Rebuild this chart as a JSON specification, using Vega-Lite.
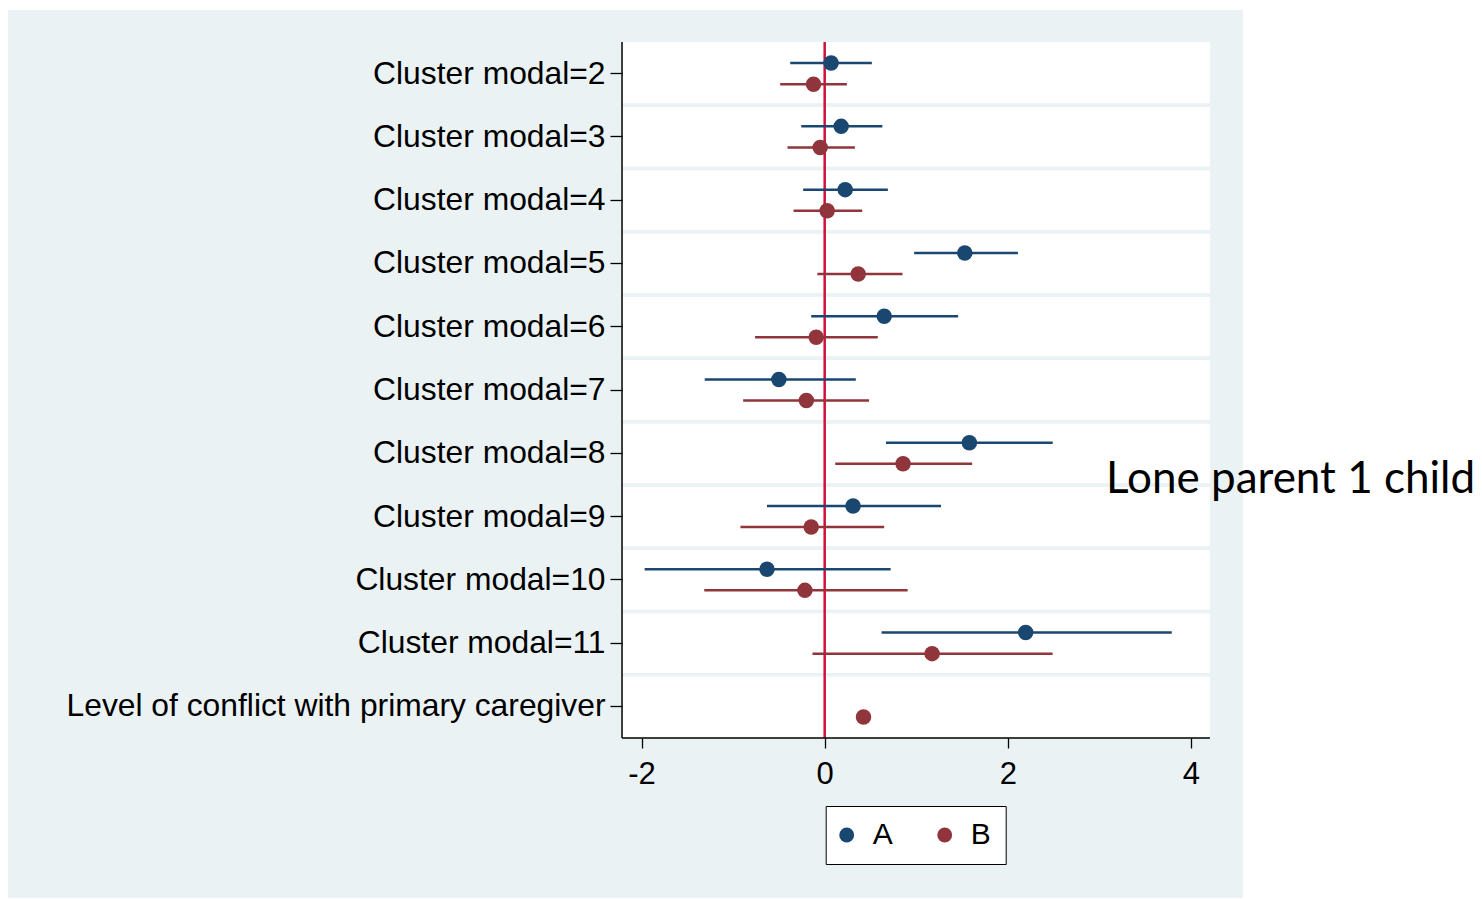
{
  "$schema": "https://vega.github.io/schema/vega-lite/v6.json",
  "width": 1235,
  "height": 888,
  "autosize": {"type": "none"},
  "padding": {"left": 8, "top": 10, "right": 239, "bottom": 1},
  "background": "white",
  "config": {"view": {"fill": "#EAF2F3", "stroke": null}, "font": "Liberation Sans"},
  "datasets": {
    "est": [
      {"cat": "Cluster modal=2", "series": "A", "est": 0.07, "lo": -0.376, "hi": 0.515},
      {"cat": "Cluster modal=2", "series": "B", "est": -0.122, "lo": -0.486, "hi": 0.242},
      {"cat": "Cluster modal=3", "series": "A", "est": 0.18, "lo": -0.256, "hi": 0.63},
      {"cat": "Cluster modal=3", "series": "B", "est": -0.049, "lo": -0.406, "hi": 0.33},
      {"cat": "Cluster modal=4", "series": "A", "est": 0.224, "lo": -0.235, "hi": 0.69},
      {"cat": "Cluster modal=4", "series": "B", "est": 0.027, "lo": -0.34, "hi": 0.41},
      {"cat": "Cluster modal=5", "series": "A", "est": 1.53, "lo": 0.977, "hi": 2.11},
      {"cat": "Cluster modal=5", "series": "B", "est": 0.366, "lo": -0.08, "hi": 0.85},
      {"cat": "Cluster modal=6", "series": "A", "est": 0.65, "lo": -0.147, "hi": 1.457},
      {"cat": "Cluster modal=6", "series": "B", "est": -0.093, "lo": -0.76, "hi": 0.58},
      {"cat": "Cluster modal=7", "series": "A", "est": -0.5, "lo": -1.31, "hi": 0.34},
      {"cat": "Cluster modal=7", "series": "B", "est": -0.2, "lo": -0.89, "hi": 0.485},
      {"cat": "Cluster modal=8", "series": "A", "est": 1.58, "lo": 0.67, "hi": 2.49},
      {"cat": "Cluster modal=8", "series": "B", "est": 0.856, "lo": 0.115, "hi": 1.61},
      {"cat": "Cluster modal=9", "series": "A", "est": 0.31, "lo": -0.63, "hi": 1.27},
      {"cat": "Cluster modal=9", "series": "B", "est": -0.147, "lo": -0.92, "hi": 0.65},
      {"cat": "Cluster modal=10", "series": "A", "est": -0.63, "lo": -1.966, "hi": 0.72},
      {"cat": "Cluster modal=10", "series": "B", "est": -0.216, "lo": -1.315, "hi": 0.906},
      {"cat": "Cluster modal=11", "series": "A", "est": 2.195, "lo": 0.621, "hi": 3.79},
      {"cat": "Cluster modal=11", "series": "B", "est": 1.173, "lo": -0.133, "hi": 2.489},
      {"cat": "Level of conflict with primary caregiver", "series": "B", "est": 0.424, "lo": 0.41, "hi": 0.44}
    ]
  },
  "data": {"name": "est"},
  "layer": [
    {
      "mark": {"type": "rect", "fill": "white"},
      "encoding": {
        "y": {
          "field": "cat",
          "type": "nominal",
          "scale": {
            "domain": ["Cluster modal=2", "Cluster modal=3", "Cluster modal=4", "Cluster modal=5", "Cluster modal=6", "Cluster modal=7", "Cluster modal=8", "Cluster modal=9", "Cluster modal=10", "Cluster modal=11", "Level of conflict with primary caregiver"],
            "range": [32, 728],
            "paddingInner": 0,
            "paddingOuter": 0
          },
          "axis": {
            "orient": "left",
            "offset": -614,
            "zindex": 1,
            "domain": false,
            "grid": false,
            "title": null,
            "tickSize": 12,
            "tickColor": "black",
            "tickWidth": 1.3,
            "labelFontSize": 31.8,
            "labelFont": "Liberation Sans",
            "labelColor": "black",
            "labelPadding": 5,
            "labelLimit": 0
          }
        },
        "x": {
          "datum": -2.213,
          "type": "quantitative",
          "scale": {"domain": [-8.918, 4.568], "nice": false, "zero": false},
          "axis": {
            "orient": "bottom",
            "offset": -160,
            "zindex": 1,
            "values": [-2, 0, 2, 4],
            "labelExpr": "'' + datum.value",
            "domain": false,
            "grid": false,
            "title": null,
            "tickSize": 10,
            "tickColor": "black",
            "tickWidth": 1.3,
            "labelFontSize": 31,
            "labelFont": "Liberation Sans",
            "labelColor": "black",
            "labelPadding": 11,
            "labelFlush": false
          }
        },
        "x2": {"datum": 4.207}
      }
    },
    {
      "transform": [{"filter": "datum.cat != 'Cluster modal=2'"}],
      "mark": {"type": "rule", "color": "#EAF2F3", "strokeWidth": 3.5},
      "encoding": {
        "y": {"field": "cat", "type": "nominal", "bandPosition": 0},
        "x": {"datum": -2.213, "type": "quantitative"},
        "x2": {"datum": 4.207}
      }
    },
    {
      "data": {"values": [{}]},
      "mark": {"type": "rule", "color": "#D0103A", "strokeWidth": 2.5},
      "encoding": {
        "x": {"datum": 0, "type": "quantitative"},
        "y": {"datum": "Cluster modal=2", "type": "nominal", "bandPosition": 0},
        "y2": {"datum": "Level of conflict with primary caregiver", "bandPosition": 1}
      }
    },
    {
      "data": {"values": [{}]},
      "mark": {"type": "rule", "color": "black", "strokeWidth": 1.5},
      "encoding": {
        "x": {"datum": -2.213, "type": "quantitative"},
        "y": {"datum": "Cluster modal=2", "type": "nominal", "bandPosition": 0},
        "y2": {"datum": "Level of conflict with primary caregiver", "bandPosition": 1}
      }
    },
    {
      "data": {"values": [{}]},
      "mark": {"type": "rule", "color": "black", "strokeWidth": 1.5},
      "encoding": {
        "x": {"datum": -2.213, "type": "quantitative"},
        "x2": {"datum": 4.207},
        "y": {"datum": "Level of conflict with primary caregiver", "type": "nominal", "bandPosition": 1}
      }
    },
    {
      "transform": [{"filter": "datum.series == 'A'"}],
      "mark": {"type": "rule", "strokeWidth": 2.5, "color": "#1A476F"},
      "encoding": {
        "y": {"field": "cat", "type": "nominal"},
        "yOffset": {"field": "series", "type": "nominal", "scale": {"type": "band", "domain": ["A", "B"], "paddingInner": 0, "paddingOuter": 0.5}},
        "x": {"field": "lo", "type": "quantitative"},
        "x2": {"field": "hi"}
      }
    },
    {
      "transform": [{"filter": "datum.series == 'B'"}],
      "mark": {"type": "rule", "strokeWidth": 2.5, "color": "#90353B"},
      "encoding": {
        "y": {"field": "cat", "type": "nominal"},
        "yOffset": {"field": "series", "type": "nominal"},
        "x": {"field": "lo", "type": "quantitative"},
        "x2": {"field": "hi"}
      }
    },
    {
      "mark": {"type": "circle", "size": 240, "opacity": 1, "strokeWidth": 0},
      "encoding": {
        "y": {"field": "cat", "type": "nominal"},
        "yOffset": {"field": "series", "type": "nominal"},
        "x": {"field": "est", "type": "quantitative"},
        "color": {
          "field": "series",
          "type": "nominal",
          "scale": {"domain": ["A", "B"], "range": ["#1A476F", "#90353B"]},
          "legend": {
            "orient": "none",
            "legendX": 817.7,
            "legendY": 796,
            "direction": "horizontal",
            "title": null,
            "fillColor": "white",
            "strokeColor": "black",
            "padding": 14,
            "labelFontSize": 30,
            "labelFont": "Liberation Sans",
            "labelColor": "black",
            "symbolType": "circle",
            "symbolSize": 220,
            "symbolStrokeWidth": 0,
            "symbolOffset": -8,
            "labelOffset": 11,
            "columnPadding": 43
          }
        }
      }
    },
    {
      "data": {"values": [{"note": "Lone parent 1 child"}]},
      "mark": {"type": "text", "font": "Lato", "fontSize": 44, "align": "left", "baseline": "alphabetic", "dy": 8.4, "color": "black"},
      "encoding": {
        "text": {"field": "note"},
        "x": {"datum": 3.072, "type": "quantitative"},
        "y": {"datum": "Cluster modal=9", "type": "nominal", "bandPosition": 0}
      }
    }
  ]
}
